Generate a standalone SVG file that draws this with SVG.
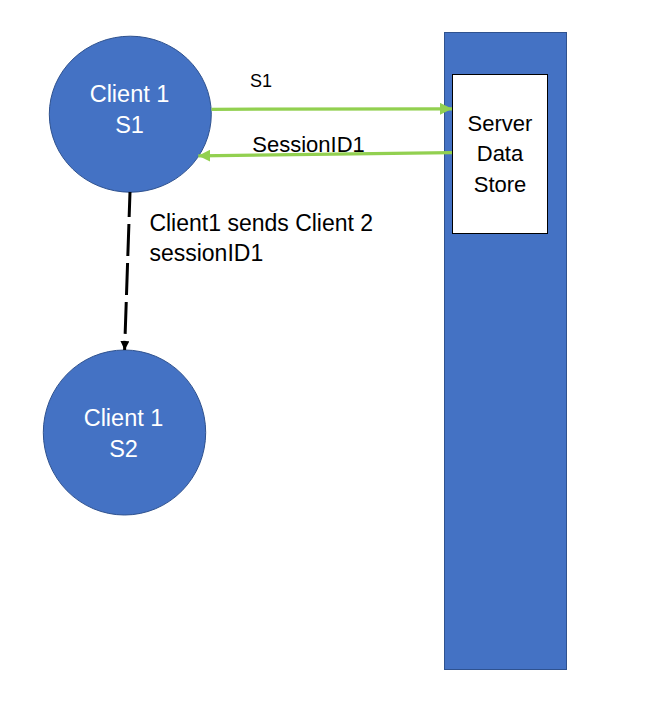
<svg xmlns="http://www.w3.org/2000/svg" width="666" height="707" viewBox="0 0 666 707">
<style>
.node{fill:#4472C4;stroke:#2F528F;stroke-width:1}
.wt{fill:#FFFFFF;font-family:"Liberation Sans",Arial,sans-serif;font-size:23.5px;text-anchor:middle}
.bt{fill:#000000;font-family:"Liberation Sans",Arial,sans-serif;font-size:22px}
.green{stroke:#92D050;stroke-width:3.3;fill:none}
.dash{stroke:#000000;stroke-width:3;fill:none;stroke-dasharray:32 7;stroke-dashoffset:7}
</style>
<defs>
<marker id="ga" viewBox="0 0 12 12" refX="12" refY="6" markerWidth="12" markerHeight="12" markerUnits="userSpaceOnUse" orient="auto">
<path d="M0,0 L12,6 L0,12 Z" fill="#92D050"/>
</marker>
<marker id="ba" viewBox="0 0 10 10" refX="10" refY="5" markerWidth="9" markerHeight="9" markerUnits="userSpaceOnUse" orient="auto">
<path d="M0,0 L10,5 L0,10 Z" fill="#000000"/>
</marker>
</defs>
<rect width="666" height="707" fill="#FFFFFF"/>
<g id="server">
<rect class="node" x="444.5" y="32.5" width="122" height="637"/>
<rect x="452.5" y="74.5" width="95" height="159" fill="#FFFFFF" stroke="#000000" stroke-width="1"/>
<text class="bt" x="500" y="131" text-anchor="middle">Server</text>
<text class="bt" x="500" y="161" text-anchor="middle">Data</text>
<text class="bt" x="500" y="191.5" text-anchor="middle">Store</text>
</g>
<g id="client1-s1">
<ellipse class="node" cx="130.3" cy="114.2" rx="81" ry="78"/>
<text class="wt" x="129.5" y="101.7">Client 1</text>
<text class="wt" x="129.5" y="132.7">S1</text>
</g>
<g id="client1-s2">
<ellipse class="node" cx="124.5" cy="432.5" rx="81.2" ry="82.5"/>
<text class="wt" x="123.5" y="426.3">Client 1</text>
<text class="wt" x="123.5" y="457">S2</text>
</g>
<g id="connectors">
<line class="green" x1="211.5" y1="109.3" x2="452" y2="108.8" marker-end="url(#ga)"/>
<line class="green" x1="452" y1="152.7" x2="198.3" y2="155.8" marker-end="url(#ga)"/>
<line class="dash" x1="130" y1="192" x2="124.6" y2="350" marker-end="url(#ba)"/>
<text class="bt" x="250" y="86.7" style="font-size:18px">S1</text>
<text class="bt" x="252.3" y="151.7">SessionID1</text>
<text class="bt" x="149.4" y="230.7" style="font-size:23px">Client1 sends Client 2</text>
<text class="bt" x="149.4" y="260.7" style="font-size:23px">sessionID1</text>
</g>
</svg>
